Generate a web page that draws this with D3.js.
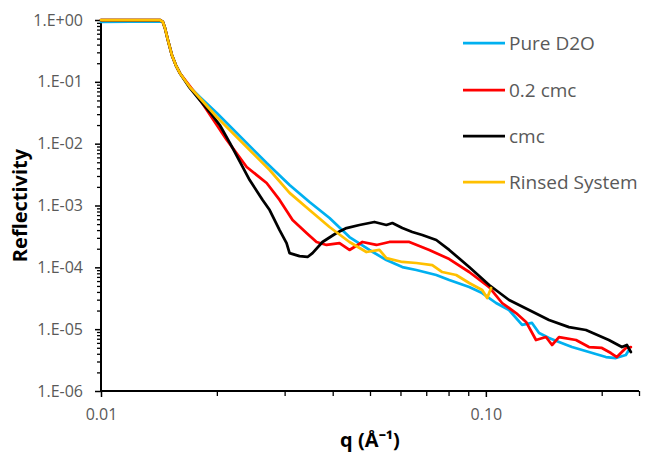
<!DOCTYPE html>
<html><head><meta charset="utf-8">
<script src="https://cdn.jsdelivr.net/npm/d3@7/dist/d3.min.js"></script>
<style>body{margin:0;background:#fff} svg{display:block}</style>
</head><body><svg id="chart" width="648" height="452"></svg>
<script>
// ---- data ----
const seriesNames = ["Pure D2O", "0.2 cmc", "cmc", "Rinsed System"];
const seriesColors = ["#00B0F0", "#FF0000", "#000000", "#FFC000"];

const qPure = [0.01, 0.0142, 0.01448, 0.01466, 0.01492, 0.01528, 0.01564, 0.01602, 0.01701, 0.01806, 0.01999, 0.02694, 0.0309, 0.03482, 0.03925, 0.04422, 0.04983, 0.05515, 0.06067, 0.06597, 0.07433, 0.08033, 0.09051, 0.09782, 0.1063, 0.1149, 0.1242, 0.1318, 0.1375, 0.1459, 0.1549, 0.1674, 0.1853, 0.2051, 0.2177, 0.2311, 0.2353];
const rPure = [0.93, 0.95, 0.93, 0.742, 0.475, 0.272, 0.187, 0.139, 0.0825, 0.0568, 0.0313, 0.00487, 0.00215, 0.00114, 0.000628, 0.000309, 0.000191, 0.000131, 0.000101, 9.05e-5, 7.51e-5, 6.23e-5, 4.80e-5, 3.84e-5, 2.65e-5, 2.04e-5, 1.17e-5, 1.26e-5, 8.66e-6, 7.19e-6, 6.20e-6, 5.14e-6, 4.27e-6, 3.54e-6, 3.41e-6, 3.82e-6, 4.60e-6];

const q02 = [0.01, 0.01422, 0.01448, 0.01466, 0.01492, 0.01528, 0.01564, 0.01602, 0.01701, 0.01806, 0.02122, 0.02391, 0.02694, 0.02911, 0.03146, 0.0342, 0.03631, 0.03855, 0.04166, 0.04422, 0.04779, 0.05196, 0.05615, 0.06326, 0.07129, 0.08033, 0.09051, 0.102, 0.1102, 0.1198, 0.1272, 0.135, 0.1433, 0.1486, 0.1549, 0.1715, 0.1853, 0.2002, 0.2113, 0.219, 0.2311, 0.2381];
const r02 = [1.0, 1.0, 0.93, 0.742, 0.475, 0.272, 0.187, 0.139, 0.0856, 0.052, 0.0115, 0.00419, 0.00231, 0.00123, 0.000583, 0.000359, 0.000257, 0.00023, 0.000247, 0.000191, 0.000257, 0.00023, 0.000257, 0.000257, 0.000191, 0.000136, 8.40e-5, 4.80e-5, 2.65e-5, 1.82e-5, 1.31e-5, 6.68e-6, 7.46e-6, 5.54e-6, 7.46e-6, 6.68e-6, 5.14e-6, 4.96e-6, 4.11e-6, 3.54e-6, 4.96e-6, 5.14e-6];

const qCmc = [0.01, 0.01422, 0.01448, 0.01466, 0.01492, 0.01528, 0.01564, 0.01602, 0.01701, 0.01806, 0.01917, 0.02035, 0.0216, 0.02434, 0.0263, 0.02743, 0.02911, 0.03035, 0.0309, 0.0328, 0.03441, 0.03545, 0.03763, 0.04092, 0.04344, 0.04694, 0.05134, 0.05515, 0.05716, 0.06067, 0.06441, 0.06837, 0.07433, 0.08033, 0.09051, 0.102, 0.1149, 0.1295, 0.1459, 0.1644, 0.182, 0.2087, 0.2257, 0.2325, 0.2381];
const rCmc = [1.0, 1.0, 0.93, 0.742, 0.475, 0.272, 0.187, 0.139, 0.0795, 0.0508, 0.0325, 0.02, 0.0104, 0.00258, 0.00123, 0.000845, 0.000401, 0.000247, 0.00017, 0.000152, 0.000147, 0.00017, 0.000257, 0.000359, 0.000432, 0.000484, 0.000541, 0.000484, 0.000521, 0.000432, 0.000373, 0.000333, 0.000277, 0.000191, 0.000101, 5.18e-5, 2.96e-5, 2.04e-5, 1.41e-5, 1.08e-5, 9.69e-6, 6.68e-6, 5.14e-6, 5.54e-6, 4.27e-6];

const qRinsed = [0.01, 0.01422, 0.01448, 0.01466, 0.01492, 0.01528, 0.01564, 0.01602, 0.01701, 0.01806, 0.01999, 0.02434, 0.02743, 0.0309, 0.03482, 0.03925, 0.04422, 0.04894, 0.0529, 0.05515, 0.06067, 0.06597, 0.07258, 0.07704, 0.08375, 0.09051, 0.09782, 0.1008, 0.1032];
const rRinsed = [1.0, 1.0, 0.93, 0.742, 0.475, 0.272, 0.187, 0.139, 0.0825, 0.0548, 0.027, 0.0079, 0.00375, 0.0016, 0.000845, 0.000449, 0.000257, 0.000177, 0.000191, 0.000141, 0.000122, 0.0001175, 0.000109, 8.40e-5, 7.51e-5, 5.58e-5, 4.30e-5, 3.19e-5, 4.63e-5];

const yTickValues = [1, 1e-1, 1e-2, 1e-3, 1e-4, 1e-5, 1e-6];
const yTickLabels = ["1.E+00", "1.E-01", "1.E-02", "1.E-03", "1.E-04", "1.E-05", "1.E-06"];
const xTickValues = [0.01, 0.1];
const xTickLabels = ["0.01", "0.10"];
const xMinorValues = [0.02, 0.03, 0.04, 0.05, 0.06, 0.07, 0.08, 0.09, 0.2, 0.25];
const xTitle = "q (Å⁻¹)";
const yTitle = "Reflectivity";

// ---- drawing ----
const svg = d3.select("#chart");
const pLeft = 101, pRight = 639, pTop = 20, pBottom = 391;
const x = d3.scaleLog().domain([0.01, 0.25]).range([pLeft, pRight]);
const y = d3.scaleLog().domain([1e-6, 1]).range([pBottom, pTop]);

const yMinor = [];
for (let e = -6; e < 0; e++) for (let m = 2; m <= 9; m++) yMinor.push(m * Math.pow(10, e));

const font = "'Open Sans', 'Liberation Sans', sans-serif";
const labelColor = "#595959";

// minor y ticks
svg.append("g").attr("transform", `translate(${pLeft},0)`)
  .call(d3.axisLeft(y).tickValues(yMinor).tickSize(4).tickFormat(""))
  .call(g => g.select(".domain").remove())
  .call(g => g.selectAll("line").attr("stroke", "#000").attr("stroke-width", 1.3));
// major y ticks
const gy = svg.append("g").attr("transform", `translate(${pLeft},0)`)
  .call(d3.axisLeft(y).tickValues(yTickValues).tickSize(6).tickPadding(12)
    .tickFormat((d, i) => yTickLabels[i]));
gy.select(".domain").remove();
gy.selectAll("line").attr("stroke", "#000").attr("stroke-width", 1.5);
gy.selectAll("text").attr("font-family", font).attr("font-size", 16).attr("fill", labelColor);

// minor x ticks
svg.append("g").attr("transform", `translate(0,${pBottom})`)
  .call(d3.axisBottom(x).tickValues(xMinorValues).tickSize(5).tickFormat(""))
  .call(g => g.select(".domain").remove())
  .call(g => g.selectAll("line").attr("stroke", "#000").attr("stroke-width", 1.3));
const gx = svg.append("g").attr("transform", `translate(0,${pBottom})`)
  .call(d3.axisBottom(x).tickValues(xTickValues).tickSize(6).tickPadding(12)
    .tickFormat((d, i) => xTickLabels[i]));
gx.select(".domain").remove();
gx.selectAll("line").attr("stroke", "#000").attr("stroke-width", 1.5);
gx.selectAll("text").attr("font-family", font).attr("font-size", 16).attr("fill", labelColor);

// axis lines
svg.append("line").attr("x1", pLeft).attr("x2", pLeft).attr("y1", pTop).attr("y2", pBottom + 1)
  .attr("stroke", "#000").attr("stroke-width", 2);
svg.append("line").attr("x1", pLeft - 1).attr("x2", pRight).attr("y1", pBottom).attr("y2", pBottom)
  .attr("stroke", "#000").attr("stroke-width", 2);

// series
const seriesQ = [qPure, q02, qCmc, qRinsed];
const seriesR = [rPure, r02, rCmc, rRinsed];
const line = d3.line().x(d => x(d[0])).y(d => y(d[1]));
seriesNames.forEach((name, i) => {
  const pts = seriesQ[i].map((q, k) => [q, seriesR[i][k]]);
  svg.append("path").datum(pts).attr("d", line)
    .attr("fill", "none").attr("stroke", seriesColors[i])
    .attr("stroke-width", 2.75).attr("stroke-linejoin", "round").attr("stroke-linecap", "round");
});

// legend
const legY = [43, 90, 136, 182];
seriesNames.forEach((name, i) => {
  svg.append("line").attr("x1", 463).attr("x2", 505).attr("y1", legY[i]).attr("y2", legY[i])
    .attr("stroke", seriesColors[i]).attr("stroke-width", 2.75);
  svg.append("text").attr("x", 509).attr("y", legY[i]).attr("dy", "0.35em")
    .attr("font-family", font).attr("font-size", 19).attr("fill", labelColor).text(name);
});

// axis titles
svg.append("text").attr("x", (pLeft + pRight) / 2).attr("y", 447).attr("text-anchor", "middle")
  .attr("font-family", font).attr("font-size", 20).attr("font-weight", "bold").attr("fill", "#000")
  .text(xTitle);
svg.append("text").attr("transform", `translate(27,${(pTop + pBottom) / 2}) rotate(-90)`)
  .attr("text-anchor", "middle")
  .attr("font-family", font).attr("font-size", 20).attr("font-weight", "bold").attr("fill", "#000")
  .text(yTitle);
</script></body></html>
